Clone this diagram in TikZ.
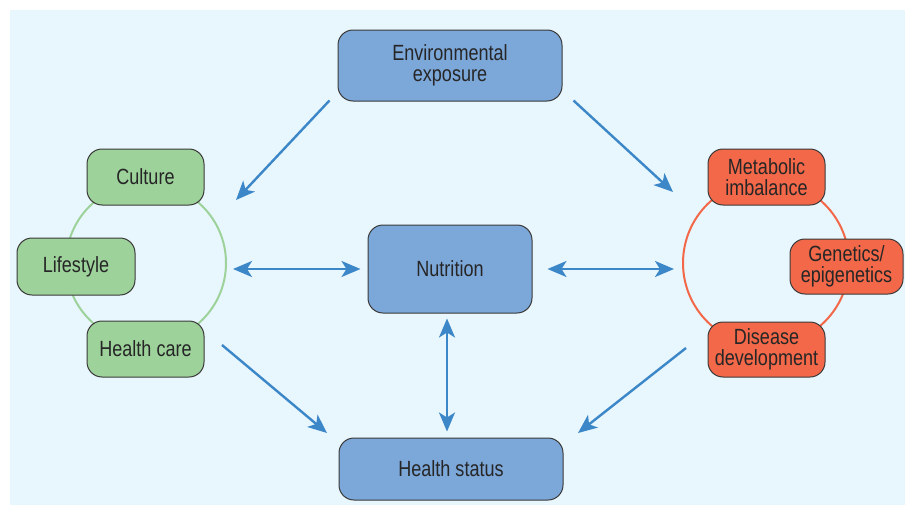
\documentclass[tikz,border=0pt]{standalone}
\usepackage{fontspec}
\setmainfont{Liberation Sans}[FakeStretch=0.82]
\usetikzlibrary{arrows.meta}
\definecolor{bgc}{HTML}{E8F6FD}
\definecolor{bluef}{HTML}{7CA7D9}
\definecolor{greenf}{HTML}{9DD29B}
\definecolor{redf}{HTML}{F26849}
\definecolor{arrowc}{HTML}{3C87C8}
\definecolor{edgec}{HTML}{3A3A3A}
\definecolor{txtc}{HTML}{262626}
\tikzset{
  box/.style={draw=edgec, line width=1pt, rounded corners=15pt, align=center,
    text=txtc, inner sep=0pt,
    font=\fontsize{22}{20.5}\selectfont},
  bluebox/.style={box, fill=bluef},
  greenbox/.style={box, fill=greenf},
  redbox/.style={box, fill=redf},
  conn/.style={draw=arrowc, line width=2.4pt,
    -{Stealth[length=19pt, width=16pt, inset=5pt]}},
  bconn/.style={draw=arrowc, line width=2.4pt,
    {Stealth[length=19pt, width=16pt, inset=5pt]}-{Stealth[length=19pt, width=16pt, inset=5pt]}},
}
\begin{document}
\begin{tikzpicture}[x=1pt,y=-1pt]
\useasboundingbox (0,0) rectangle (905,506);
\fill[bgc] (10,10) rectangle (905,505);
% group rings
\draw[greenf, line width=2pt] (146,263) circle[radius=80];
\draw[redf, line width=2pt] (766,263) circle[radius=83];
% nodes
\node[bluebox, minimum width=224pt, minimum height=71pt] (env) at (450,65.5) {Environmental\\exposure};
\node[bluebox, minimum width=164pt, minimum height=88pt] (nut) at (450,269) {Nutrition};
\node[bluebox, minimum width=224pt, minimum height=62pt] (hs) at (451,469) {Health status};
\node[greenbox, minimum width=117pt, minimum height=56pt] (cul) at (145.5,177) {Culture};
\node[greenbox, minimum width=118pt, minimum height=57pt] (life) at (76,266.5) {Lifestyle};
\node[greenbox, minimum width=117pt, minimum height=56pt] (hc) at (145.5,349) {Health care};
\node[redbox, minimum width=117pt, minimum height=56pt] (met) at (766.5,177) {Metabolic\\imbalance};
\node[redbox, minimum width=113pt, minimum height=55pt] (gen) at (846.5,266.5) {Genetics/\\epigenetics};
\node[redbox, minimum width=117pt, minimum height=55pt] (dis) at (766.5,349.5) {Disease\\development};
% connector end points
\coordinate (e1s) at ([shift={(-8pt,1pt)}]env.south west);
\coordinate (e1t) at (236,200);
\coordinate (e2s) at ([shift={(11pt,1pt)}]env.south east);
\coordinate (e2t) at (673,192);
\coordinate (lt) at (233,269);
\coordinate (nl) at ([xshift=-7pt]nut.west);
\coordinate (nr) at ([xshift=15pt]nut.east);
\coordinate (rt) at (674,269);
\coordinate (ns) at ([shift={(-3pt,-5pt)}]nut.south);
\coordinate (hn) at ([shift={(-4pt,6pt)}]hs.north);
\coordinate (b1s) at (222,345);
\coordinate (b1t) at (327,433);
\coordinate (b2s) at (686,348);
\coordinate (b2t) at (578,433);
% connectors
\draw[conn] (e1s) -- (e1t);
\draw[conn] (e2s) -- (e2t);
\draw[bconn] (lt) -- (nl);
\draw[bconn] (nr) -- (rt);
\draw[bconn] (ns) -- (hn);
\draw[conn] (b1s) -- (b1t);
\draw[conn] (b2s) -- (b2t);
\end{tikzpicture}
\end{document}
